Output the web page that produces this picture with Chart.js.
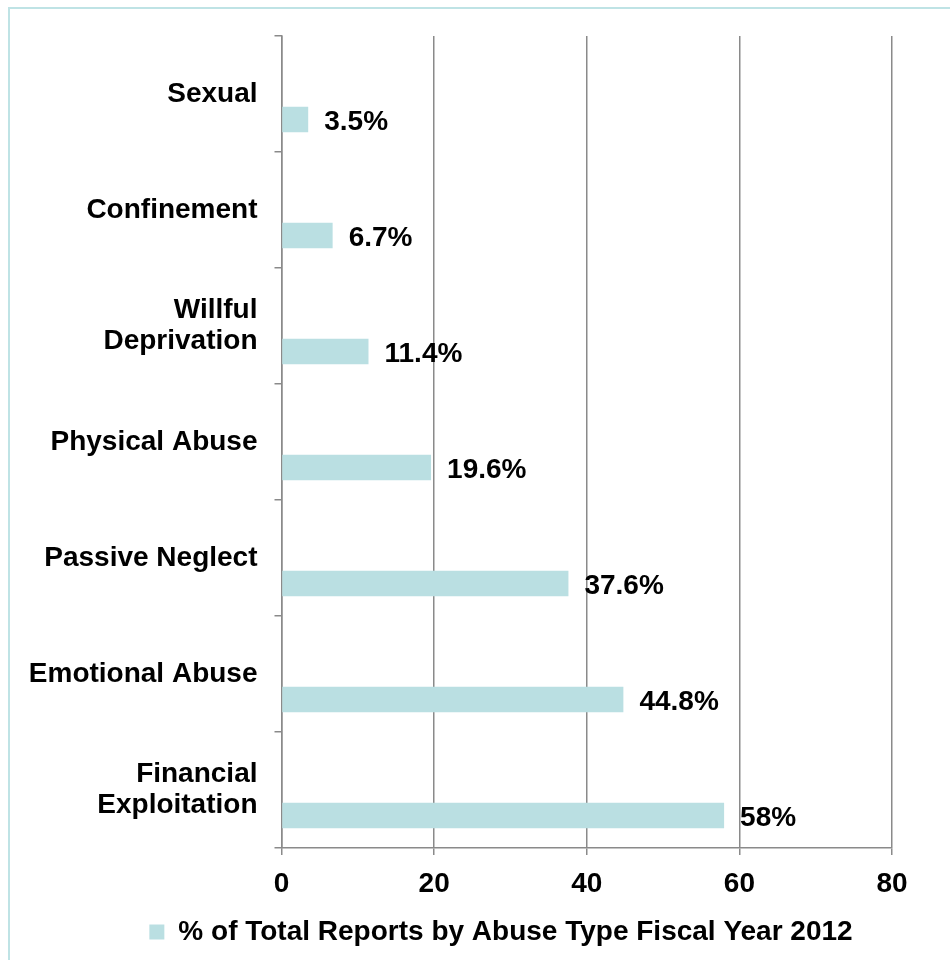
<!DOCTYPE html>
<html>
<head>
<meta charset="utf-8">
<script src="https://cdn.jsdelivr.net/npm/chart.js@4/dist/chart.umd.min.js"></script>
<style>
  html, body { margin: 0; padding: 0; background: #fff; overflow: hidden; }
  #wrap { position: relative; width: 950px; height: 960px; overflow: hidden; }
  #frame { position: absolute; left: 8px; top: 7px; width: 960px; height: 970px; border: 2px solid #bfe3e5; pointer-events: none; }
</style>
</head>
<body>
<div id="wrap">
  <canvas id="grafico" width="950" height="960"></canvas>
  <div id="frame"></div>
</div>
<script>
// categorias de arriba hacia abajo
const categorias = ['Sexual', 'Confinement', ['Willful', 'Deprivation'], 'Physical Abuse',
                    'Passive Neglect', 'Emotional Abuse', ['Financial', 'Exploitation']];
const porcentajes = [3.5, 6.7, 11.4, 19.6, 37.6, 44.8, 58];
const etiquetas = ['3.5%', '6.7%', '11.4%', '19.6%', '37.6%', '44.8%', '58%'];
const vacio = [null, null, null, null, null, null, null];
const ticksX = [0, 20, 40, 60, 80];
const nombreSerie = '% of Total Reports by Abuse Type Fiscal Year 2012';

const fuente = { family: '"Liberation Sans", Arial, sans-serif', size: 28, weight: 'bold' };
const gris = '#8a8a8a';
const turquesa = '#badfe2';

// etiquetas de valor a la derecha de cada barra
const etiquetasBarras = {
    id: 'etiquetasBarras',
    afterDatasetsDraw(chart) {
        const ctx = chart.ctx;
        const meta = chart.getDatasetMeta(1);
        ctx.save();
        ctx.font = 'bold 28px "Liberation Sans", Arial, sans-serif';
        ctx.fillStyle = '#000';
        ctx.textAlign = 'left';
        ctx.textBaseline = 'middle';
        meta.data.forEach((bar, i) => {
            ctx.fillText(etiquetas[i], bar.x + 16, bar.y + 3);
        });
        ctx.restore();
    }
};

// la leyenda del original esta un poco corrida a la derecha
const moverLeyenda = {
    id: 'moverLeyenda',
    afterLayout(chart) {
        chart.legend.left += 110;
    }
};

Chart.defaults.font.family = fuente.family;
Chart.defaults.color = '#000';

new Chart(document.getElementById('grafico'), {
    type: 'bar',
    data: {
        labels: categorias,
        datasets: [
            { label: '', data: vacio, backgroundColor: turquesa },
            { label: nombreSerie, data: porcentajes, backgroundColor: turquesa }
        ]
    },
    options: {
        indexAxis: 'y',
        responsive: false,
        animation: false,
        categoryPercentage: 0.88,
        barPercentage: 0.5,
        layout: { padding: { left: 0, right: 58, top: 36, bottom: 4 } },
        plugins: {
            tooltip: { enabled: false },
            legend: {
                position: 'bottom',
                labels: {
                    font: fuente,
                    color: '#000',
                    boxWidth: 15,
                    boxHeight: 15,
                    padding: 10,
                    filter: item => item.datasetIndex === 1
                }
            }
        },
        scales: {
            x: {
                min: 0,
                max: 80,
                afterBuildTicks: scale => { scale.ticks = ticksX.map(v => ({ value: v })); },
                afterFit: scale => { scale.height = 60; },
                grid: { color: gris, lineWidth: 1.5, tickLength: 7, drawTicks: true },
                border: { color: gris, width: 1.5 },
                ticks: { font: fuente, color: '#000', padding: 12 }
            },
            y: {
                afterFit: scale => {
                    scale.width = 281.5;
                    scale.paddingTop = 0;
                    scale.paddingBottom = 0;
                },
                grid: { drawOnChartArea: false, color: gris, lineWidth: 1.5, tickLength: 7, offset: true },
                border: { color: gris, width: 1.5 },
                ticks: { font: { ...fuente, lineHeight: 1.1 }, color: '#000', padding: 17 }
            }
        }
    },
    plugins: [etiquetasBarras, moverLeyenda]
});
</script>
</body>
</html>
